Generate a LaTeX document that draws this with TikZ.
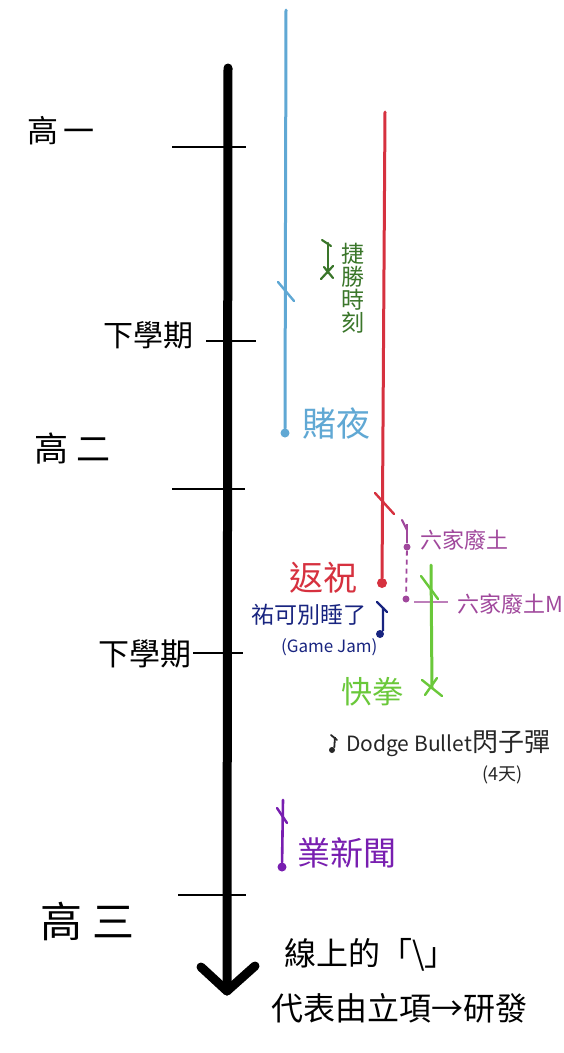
\documentclass[tikz,border=0pt]{standalone}
\usepackage{fontspec}
\setmainfont{Noto Sans CJK TC}
\usepackage{xcolor}
\usetikzlibrary{calc}
\usetikzlibrary{positioning}
\definecolor{nightblue}{RGB}{96,168,212}
\definecolor{returnred}{RGB}{214,49,63}
\definecolor{fistgreen}{RGB}{106,200,58}
\definecolor{wingreen}{RGB}{58,118,42}
\definecolor{wasteplum}{RGB}{160,72,156}
\definecolor{jamnavy}{RGB}{24,36,128}
\definecolor{newsviolet}{RGB}{120,30,176}
\newcommand{\fs}[1]{\fontsize{#1}{#1}\selectfont}
\tikzset{
	spine/.style={line width=9pt, line cap=round, line join=round},
	tickline/.style={line width=1.6pt},
	track/.style={line width=3pt, line cap=round},
	slashmark/.style={line width=2.4pt, line cap=round},
	dot/.style={circle, inner sep=0pt, minimum size=9pt},
	lbl/.style={inner sep=0pt, anchor=west}
}
\begin{document}
\begin{tikzpicture}[x=1pt, y=-1pt]
			\useasboundingbox [fill=white] (0,0) rectangle (564,1053);

			\coordinate (spineTop) at (228,68);
			\coordinate (spineTip) at (227,991);
			\coordinate (barbL) at (201,967);
			\coordinate (barbR) at (255,966);
			\draw [spine] (spineTop) -- (spineTip);
			\draw [spine] (barbL) -- (spineTip) -- (barbR);

			\coordinate (t1a) at (172,147); \coordinate (t1b) at (246,147);
			\coordinate (t2a) at (206,341); \coordinate (t2b) at (256,341);
			\coordinate (t3a) at (172,489); \coordinate (t3b) at (245,489);
			\coordinate (t4a) at (193,653); \coordinate (t4b) at (243,653);
			\coordinate (t5a) at (178,895); \coordinate (t5b) at (246,895);
			\draw [tickline] (t1a) -- (t1b);
			\draw [tickline] (t2a) -- (t2b);
			\draw [tickline] (t3a) -- (t3b);
			\draw [tickline] (t4a) -- (t4b);
			\draw [tickline] (t5a) -- (t5b);

			\node [lbl, font=\fs{31}] (grade1) at (27,131) {高\hspace{5pt}一};
			\node [lbl, font=\fs{30}] (term1) at (103,335) {下學期};
			\node [lbl, font=\fs{34}] (grade2) at (34,449) {高\hspace{8pt}二};
			\node [lbl, font=\fs{31}] (term2) at (98,654) {下學期};
			\node [lbl, font=\fs{42}] (grade3) at (40,921) {高\hspace{10pt}三};

			% 賭夜
			\coordinate (nightTop) at (286,10);
			\node [dot, fill=nightblue] (nightEnd) at (285,433) {};
			\draw [track, color=nightblue] (nightTop) -- (nightEnd);
			\draw [slashmark, color=nightblue] (278,282) -- (294,301);
			\node [lbl, color=nightblue, font=\fs{34}] (nightLbl) at (302,424) {賭夜};

			% 捷勝時刻
			\coordinate (winTop) at (328,243);
			\coordinate (winEnd) at (328,273);
			\draw [slashmark, color=wingreen, line width=2.2pt] (winTop) -- (winEnd);
			\draw [slashmark, color=wingreen, line width=2.2pt] (322,240) -- (331,246);
			\draw [slashmark, color=wingreen, line width=2.2pt] (321,279) -- (333,266);
			\draw [slashmark, color=wingreen, line width=2.2pt] (324,267) -- (333,278);
			\node [color=wingreen, font=\fs{23}, align=center, inner sep=0pt] (winLbl) at (353,288) {捷\\勝\\時\\刻};

			% 返祝
			\coordinate (returnTop) at (385,112);
			\node [dot, fill=returnred, minimum size=10pt] (returnEnd) at (382,583) {};
			\draw [track, color=returnred] (returnTop) -- (returnEnd);
			\draw [slashmark, color=returnred] (375,493) -- (394,514);
			\node [color=returnred, font=\fs{34}, inner sep=0pt] (returnLbl) at (323,578) {返祝};

			% 六家廢土
			\coordinate (wasteTop) at (407,524);
			\node [dot, fill=wasteplum, minimum size=7pt] (wasteEnd) at (407,547) {};
			\node [dot, fill=wasteplum, minimum size=7pt] (wasteMEnd) at (406,599) {};
			\coordinate (wasteMLine) at (448,602);
			\draw [color=wasteplum, line width=2.2pt] (wasteTop) -- (wasteEnd);
			\draw [color=wasteplum, line width=2.2pt, line cap=round] (402,520) -- (407,530);
			\draw [color=wasteplum, line width=1.8pt, dash pattern=on 5pt off 4pt] (wasteEnd) -- (wasteMEnd);
			\draw [color=wasteplum!70, line width=1.4pt] ($(wasteMEnd)+(8,3)$) -- (wasteMLine);
			\node [lbl, color=wasteplum, font=\fs{22}] (wasteLbl) at (420,540) {六家廢土};
			\node [lbl, color=wasteplum, font=\fs{22}] (wasteMLbl) at (457,604) {六家廢土M};

			% 祐可別睡了
			\coordinate (jamTop) at (383,607);
			\node [dot, fill=jamnavy, minimum size=8pt] (jamEnd) at (380,634) {};
			\draw [color=jamnavy, line width=2.4pt] (jamTop) -- (jamEnd.north east);
			\draw [slashmark, color=jamnavy] (377,602) -- (387,612);
			\node [lbl, color=jamnavy, font=\fs{23}] (jamLbl) at (251,615) {祐可別睡了};
			\node [lbl, color=jamnavy, font=\fs{17}] (jamSub) at (281,647) {(Game Jam)};

			% 快拳
			\coordinate (fistTop) at (431,565);
			\coordinate (fistEnd) at (432,688);
			\draw [track, color=fistgreen] (fistTop) -- (fistEnd);
			\draw [slashmark, color=fistgreen] (421,576) -- (438,599);
			\draw [slashmark, color=fistgreen] (422,680) -- (442,696);
			\draw [slashmark, color=fistgreen] (437,678) -- (425,695);
			\node [color=fistgreen, font=\fs{31}, inner sep=0pt] (fistLbl) at (372,692) {快拳};

			% Dodge Bullet
			\coordinate (dodgeTop) at (335,737);
			\node [dot, fill=black!85, minimum size=6pt] (dodgeEnd) at (332,750) {};
			\draw [color=black!85, line width=1.8pt] (dodgeTop) -- (dodgeEnd.north east);
			\draw [color=black!85, line width=1.8pt, line cap=round] (331,735) -- (337,740);
			\node [lbl, color=black!85] (dodgeLbl) at (346,744) {{\fs{21}Dodge Bullet}{\fs{26}閃子彈}};
			\node [lbl, color=black!85, font=\fs{18}] (dodgeDays) at (482,775) {(4天)};

			% 業新聞
			\coordinate (newsTop) at (283,800);
			\node [dot, fill=newsviolet] (newsEnd) at (282,867) {};
			\draw [color=newsviolet, line width=2.6pt, line cap=round] (newsTop) -- (newsEnd);
			\draw [slashmark, color=newsviolet] (277,808) -- (287,823);
			\node [lbl, color=newsviolet, font=\fs{33}] (newsLbl) at (297,853) {業新聞};

			\node [lbl, font=\fs{32}] (legendA) at (284,955) {線上的「\textbackslash」};
			\node [lbl, font=\fs{32}] (legendB) at (271,1008) {代表由立項→研發};
		\end{tikzpicture}
\end{document}
